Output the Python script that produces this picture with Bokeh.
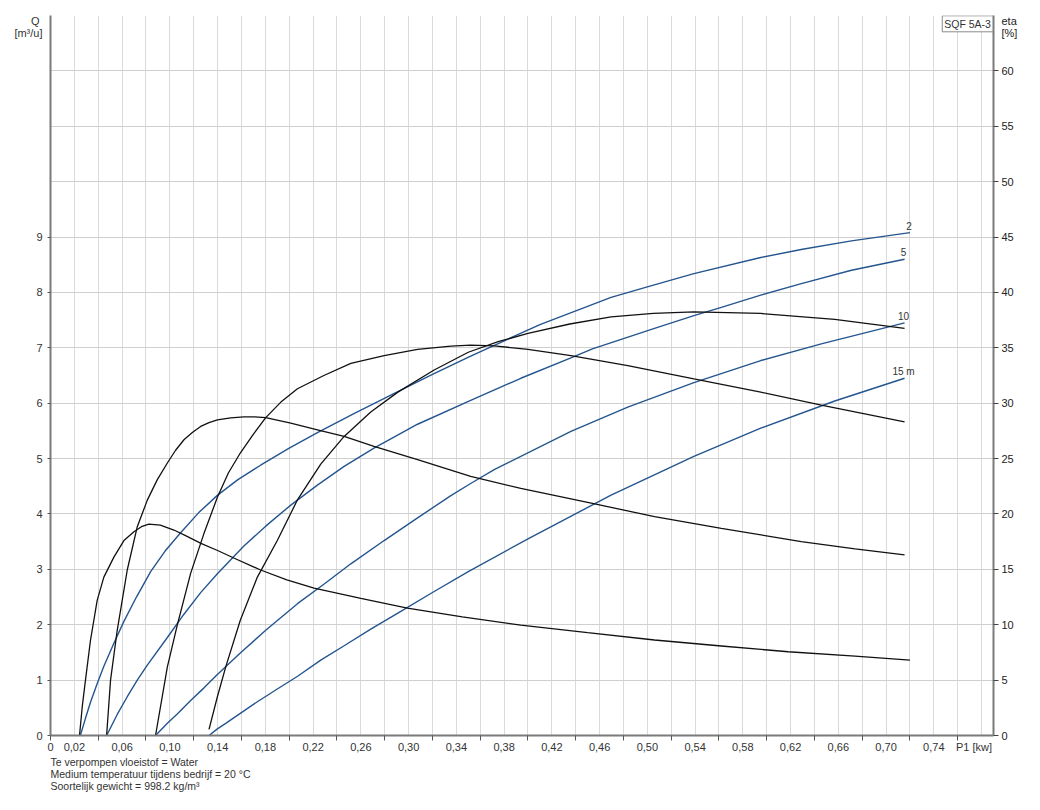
from bokeh.plotting import figure
from bokeh.models import Range1d, LinearAxis, FixedTicker, CustomJSTickFormatter, Label, ColumnDataSource, Title
from bokeh.embed import file_html
from bokeh.resources import INLINE
from bokeh.core.properties import value

# ---------------- data ----------------
# Flow Q [m3/h] versus input power P1 [kW] at several heads
P_2m = [0.025, 0.0293, 0.0335, 0.039, 0.0447, 0.053, 0.0615, 0.072, 0.0839, 0.096, 0.109, 0.124, 0.140,
        0.157, 0.176, 0.200, 0.2236, 0.255, 0.291, 0.320, 0.352, 0.410, 0.4696, 0.500, 0.539, 0.595,
        0.630, 0.671, 0.720]
Q_2m = [0.0, 0.31, 0.60, 0.93, 1.25, 1.66, 2.06, 2.50, 2.96, 3.33, 3.66, 4.02, 4.34,
        4.62, 4.88, 5.19, 5.47, 5.82, 6.21, 6.52, 6.85, 7.42, 7.91, 8.10, 8.34, 8.63,
        8.78, 8.93, 9.08]

P_5m = [0.047, 0.0503, 0.0559, 0.0643, 0.0727, 0.0811, 0.0979, 0.1118, 0.1258, 0.1398, 0.162, 0.1803,
        0.2013, 0.2236, 0.246, 0.271, 0.3075, 0.352, 0.394, 0.436, 0.454, 0.506, 0.539, 0.562, 0.595,
        0.629, 0.671, 0.7155]
Q_5m = [0.0, 0.14, 0.38, 0.70, 1.00, 1.27, 1.77, 2.19, 2.58, 2.92, 3.42, 3.78,
        4.16, 4.52, 4.86, 5.19, 5.62, 6.05, 6.45, 6.82, 6.98, 7.35, 7.58, 7.73, 7.95,
        8.16, 8.40, 8.60]

P_10m = [0.088, 0.0979, 0.1062, 0.1174, 0.1286, 0.1398, 0.159, 0.1803, 0.2069, 0.229, 0.2516, 0.2795,
         0.3075, 0.3354, 0.352, 0.3717, 0.436, 0.4836, 0.539, 0.595, 0.6457, 0.7155]
Q_10m = [0.0, 0.22, 0.39, 0.63, 0.86, 1.10, 1.49, 1.90, 2.38, 2.73, 3.10, 3.52,
         3.93, 4.33, 4.55, 4.80, 5.49, 5.93, 6.37, 6.77, 7.07, 7.45]

P_15m = [0.1328, 0.1398, 0.1468, 0.159, 0.1733, 0.190, 0.207, 0.2264, 0.246, 0.2683, 0.291, 0.3214,
         0.350, 0.400, 0.4696, 0.539, 0.595, 0.657, 0.7155]
Q_15m = [0.0, 0.12, 0.22, 0.40, 0.61, 0.84, 1.07, 1.36, 1.62, 1.92, 2.21, 2.60,
         2.96, 3.55, 4.34, 5.04, 5.55, 6.04, 6.45]

# Efficiency eta [%] versus P1 [kW] for the same heads
PE_2m = [0.0243, 0.0266, 0.0293, 0.0335, 0.0391, 0.0447, 0.0531, 0.0615, 0.0699, 0.0762, 0.0824, 0.092,
         0.1034, 0.114, 0.126, 0.140, 0.154, 0.176, 0.198, 0.2208, 0.26, 0.299, 0.345, 0.394, 0.45,
         0.506, 0.562, 0.618, 0.674, 0.72]
E_2m = [0.0, 2.6, 5.0, 8.6, 12.2, 14.3, 16.1, 17.6, 18.4, 18.85, 19.09, 19.0,
        18.55, 18.0, 17.35, 16.7, 16.0, 14.94, 14.05, 13.3, 12.38, 11.5, 10.7, 9.97, 9.28,
        8.62, 8.08, 7.56, 7.16, 6.81]

PE_5m = [0.047, 0.0503, 0.0559, 0.0643, 0.0727, 0.0811, 0.0895, 0.0979, 0.1048, 0.1118, 0.1188, 0.1258,
         0.1328, 0.1398, 0.151, 0.162, 0.171, 0.1803, 0.2013, 0.2236, 0.246, 0.271, 0.3075, 0.352,
         0.394, 0.454, 0.506, 0.562, 0.629, 0.674, 0.7155]
E_5m = [0.0, 5.0, 9.5, 14.94, 18.85, 21.25, 23.1, 24.6, 25.75, 26.7, 27.35, 27.9,
        28.25, 28.5, 28.68, 28.77, 28.76, 28.7, 28.2, 27.6, 27.0, 26.1, 24.9, 23.4,
        22.3, 20.96, 19.75, 18.7, 17.5, 16.85, 16.3]

PE_10m = [0.088, 0.0979, 0.1062, 0.1174, 0.1286, 0.1398, 0.149, 0.159, 0.17, 0.1803, 0.193, 0.2069,
          0.229, 0.2516, 0.2795, 0.3075, 0.3354, 0.352, 0.3717, 0.40, 0.436, 0.4836, 0.539, 0.595,
          0.6457, 0.7155]
E_10m = [0.0, 6.2, 9.97, 14.64, 18.25, 21.5, 23.7, 25.5, 27.2, 28.7, 30.1, 31.3,
         32.5, 33.6, 34.3, 34.86, 35.15, 35.24, 35.18, 34.85, 34.3, 33.4, 32.2, 31.0,
         29.83, 28.32]

PE_15m = [0.1328, 0.1398, 0.1468, 0.159, 0.1733, 0.190, 0.207, 0.2264, 0.246, 0.2683, 0.291, 0.3214,
          0.35, 0.375, 0.40, 0.435, 0.4696, 0.505, 0.539, 0.595, 0.657, 0.7155]
E_15m = [0.56, 3.5, 6.2, 10.4, 14.3, 17.6, 21.3, 24.5, 27.0, 29.2, 31.0, 33.0,
         34.6, 35.55, 36.3, 37.15, 37.8, 38.1, 38.25, 38.1, 37.56, 36.75]

CURVE_LABELS = ["2", "5", "10", "15 m"]
X_LABEL_TICKS = [0, 0.02, 0.06, 0.10, 0.14, 0.18, 0.22, 0.26, 0.30, 0.34, 0.38, 0.42, 0.46, 0.50,
                 0.54, 0.58, 0.62, 0.66, 0.70, 0.74, 0.78]
X_MARK_TICKS = [0, 0.04, 0.08, 0.12, 0.16, 0.20, 0.24, 0.28, 0.32, 0.36, 0.40, 0.44, 0.48, 0.52,
                0.56, 0.60, 0.64, 0.68, 0.72, 0.76]
X_UNIT_LABEL = "P1 [kw]"
Q_TICKS = [0, 1, 2, 3, 4, 5, 6, 7, 8, 9]
ETA_TICKS = [0, 5, 10, 15, 20, 25, 30, 35, 40, 45, 50, 55, 60]
Q_HEADER = ["Q", "[m³/u]"]
ETA_HEADER = ["eta", "[%]"]
NOTES = ["Te verpompen vloeistof = Water",
         "Medium temperatuur tijdens bedrijf = 20 °C",
         "Soortelijk gewicht = 998.2 kg/m³"]

FONT = "Liberation Sans"
BLUE = "#24558f"
BLACK = "#111111"
AXIS_C = "#7a7a7a"
TXT_C = "#333333"
NB = "\u00a0"

p = figure(frame_width=943, frame_height=720,
           x_range=Range1d(0, 0.79), y_range=Range1d(0, 13),
           output_backend="svg", toolbar_location=None,
           min_border_left=50, min_border_right=45, min_border_top=15, min_border_bottom=70)
p.extra_y_ranges = {"eta": Range1d(0, 65)}
p.outline_line_color = None
p.background_fill_color = "white"
p.border_fill_color = "white"

# grids
p.xgrid.ticker = FixedTicker(ticks=[round(0.02 * i, 2) for i in range(40)])
p.xgrid.grid_line_color = "#dadada"
p.ygrid.ticker = FixedTicker(ticks=list(range(14)))
p.ygrid.grid_line_color = "#cfcfcf"

# bottom axis
xa = p.xaxis[0]
xa.ticker = FixedTicker(ticks=X_LABEL_TICKS, minor_ticks=X_MARK_TICKS)
xa.formatter = CustomJSTickFormatter(
    args=dict(unit=X_UNIT_LABEL + NB * 5),
    code="if (tick == 0) return '0'; if (tick > 0.775) return unit; return tick.toFixed(2).replace('.', ',');")
xa.major_tick_out = 0
xa.major_tick_in = 0
xa.minor_tick_out = 5
xa.minor_tick_in = 0
xa.minor_tick_line_color = "#555555"
xa.axis_line_color = AXIS_C
xa.axis_line_width = 2
xa.major_label_standoff = 0
xa.major_label_text_font = FONT
xa.major_label_text_font_size = "11px"
xa.major_label_text_color = TXT_C

# header rows sit at the top of the side axes (y = 21 px and 33 px from the top)
q_hdr_pos = [13 - 6 / 55.385, 13 - 18 / 55.385]
eta_hdr_pos = [65 - 6 / 11.077, 65 - 18 / 11.077]

# left axis
ya = p.yaxis[0]
ya.ticker = FixedTicker(ticks=Q_TICKS + q_hdr_pos, minor_ticks=Q_TICKS)
ya.formatter = CustomJSTickFormatter(
    args=dict(h0=Q_HEADER[0] + NB, h1=Q_HEADER[1], a=q_hdr_pos[0], b=q_hdr_pos[1]),
    code="if (Math.abs(tick - a) < 1e-6) return h0; if (Math.abs(tick - b) < 1e-6) return h1; return tick.toFixed(0);")
ya.major_tick_out = 0
ya.major_tick_in = 0
ya.minor_tick_out = 3
ya.minor_tick_in = 0
ya.minor_tick_line_color = "#555555"
ya.axis_line_color = AXIS_C
ya.axis_line_width = 2
ya.major_label_standoff = 5
ya.major_label_text_font = FONT
ya.major_label_text_font_size = "11px"
ya.major_label_text_color = TXT_C

# right axis (eta)
ra = LinearAxis(y_range_name="eta", ticker=FixedTicker(ticks=ETA_TICKS + eta_hdr_pos, minor_ticks=ETA_TICKS))
ra.formatter = CustomJSTickFormatter(
    args=dict(h0=ETA_HEADER[0], h1=ETA_HEADER[1], a=eta_hdr_pos[0], b=eta_hdr_pos[1]),
    code="if (Math.abs(tick - a) < 1e-6) return h0; if (Math.abs(tick - b) < 1e-6) return h1; return tick.toFixed(0);")
ra.major_tick_out = 0
ra.major_tick_in = 0
ra.minor_tick_out = 5
ra.minor_tick_in = 0
ra.minor_tick_line_color = "#444444"
ra.axis_line_color = AXIS_C
ra.axis_line_width = 2
ra.major_label_standoff = 3
ra.major_label_text_font = FONT
ra.major_label_text_font_size = "11px"
ra.major_label_text_color = "#222222"
p.add_layout(ra, "right")

# curves
for px, qy in [(P_2m, Q_2m), (P_5m, Q_5m), (P_10m, Q_10m), (P_15m, Q_15m)]:
    p.line(px, qy, line_color=BLUE, line_width=1.4)
for px, ey in [(PE_2m, E_2m), (PE_5m, E_5m), (PE_10m, E_10m), (PE_15m, E_15m)]:
    p.line(px, ey, line_color=BLACK, line_width=1.3, y_range_name="eta")

# curve end labels
src = ColumnDataSource(dict(
    x=[P_2m[-1], P_5m[-1], P_10m[-1], P_15m[-1]],
    y=[Q_2m[-1], Q_5m[-1], Q_10m[-1], Q_15m[-1]],
    t=CURVE_LABELS))
p.text(x="x", y="y", text="t", source=src, text_align="center", text_baseline="middle",
       y_offset=-7, x_offset=-1, text_font=value(FONT), text_font_size="10px", text_color="#333333")

# product box inside the frame
p.add_layout(Label(x=0.7683, y=12.85, text="SQF 5A-3", text_align="center", text_baseline="middle",
                   text_font=FONT, text_font_size="10.5px", text_color="#333333",
                   border_line_color="#8a8a8a", background_fill_color="white", padding=2))

# notes below the chart
p.add_layout(Title(text="\n".join(NOTES), align="left", text_font=FONT, text_font_size="10.5px",
                   text_font_style="normal", text_color="#333333", standoff=-3,
                   text_line_height=1.0), "below")

open("out.html", "w").write(file_html(p, INLINE))
